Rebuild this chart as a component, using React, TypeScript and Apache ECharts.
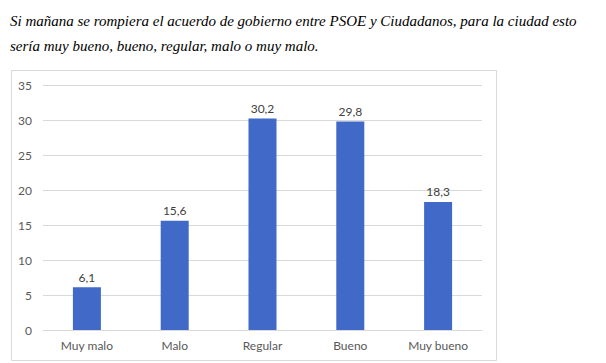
import React, { useEffect, useRef } from "react";
import * as echarts from "echarts";

const categories = ["Muy malo", "Malo", "Regular", "Bueno", "Muy bueno"];
const values = [6.1, 15.6, 30.2, 29.8, 18.3];
const titleLines = [
  "Si mañana se rompiera el acuerdo de gobierno entre PSOE y Ciudadanos, para la ciudad esto",
  "sería muy bueno, bueno, regular, malo o muy malo.",
];

export default function App() {
  const ref = useRef<HTMLDivElement>(null);
  useEffect(() => {
    document.body.style.margin = "0";
    const chart = echarts.init(ref.current!, null, { renderer: "svg" });
    chart.setOption({
      animation: false,
      backgroundColor: "#ffffff",
      graphic: [
        ...titleLines.map((t, i) => ({
          type: "text",
          left: 10,
          top: 13 + i * 25,
          style: {
            text: t,
            fontFamily: "Liberation Serif, Times New Roman, serif",
            fontStyle: "italic",
            fontSize: 15,
            fill: "#000000",
          },
        })),
        {
          type: "rect",
          shape: { x: 11.5, y: 70.5, width: 485, height: 290 },
          style: { fill: "none", stroke: "#d9d9d9", lineWidth: 1 },
          z: -1,
        },
      ],
      grid: { left: 43, right: 124, top: 85, bottom: 33 },
      xAxis: {
        type: "category",
        data: categories,
        axisLine: { show: true, lineStyle: { color: "#d9d9d9", width: 1 } },
        axisTick: { show: false },
        axisLabel: {
          color: "#595959",
          fontFamily: "Lato",
          fontSize: 12,
          margin: 9,
        },
      },
      yAxis: {
        type: "value",
        min: 0,
        max: 35,
        interval: 5,
        axisLine: { show: false },
        axisTick: { show: false },
        splitLine: { lineStyle: { color: "#d9d9d9", width: 1 } },
        axisLabel: {
          color: "#595959",
          fontFamily: "Lato",
          fontSize: 12,
          margin: 11,
        },
      },
      series: [
        {
          type: "bar",
          data: values,
          barWidth: 28,
          itemStyle: { color: "#4169c8" },
          label: {
            show: true,
            position: "top",
            distance: 4,
            color: "#404040",
            fontFamily: "Lato",
            fontSize: 12,
            formatter: (p: any) => String(p.value).replace(".", ","),
          },
        },
      ],
    });
    return () => chart.dispose();
  }, []);
  return <div ref={ref} style={{ width: 606, height: 363 }} />;
}
